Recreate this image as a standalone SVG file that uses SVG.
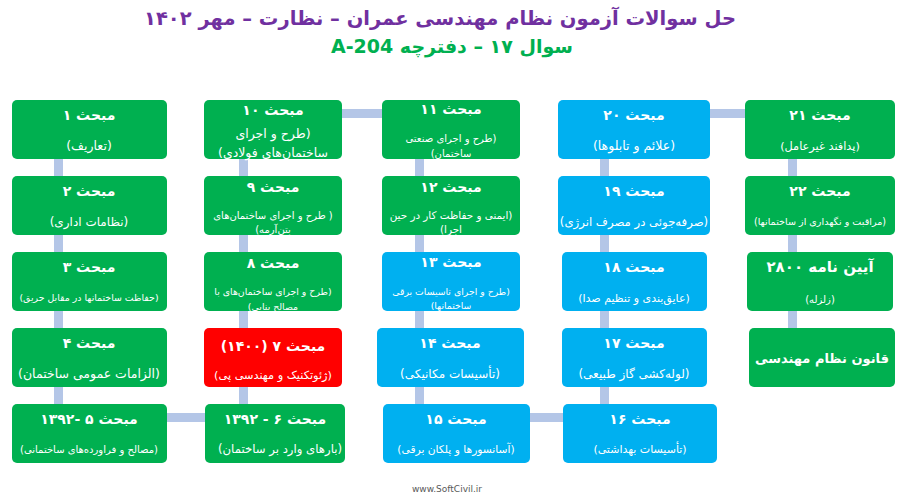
<svg xmlns="http://www.w3.org/2000/svg" width="901" height="503" viewBox="0 0 901 503">
<style>
.g{fill:#00B050}.b{fill:#00B0F0}.r{fill:#FF0000}
.c{fill:#B4C6E7}
text{font-family:"DejaVu Sans",sans-serif;text-anchor:middle;direction:rtl}
.t{fill:#fff;font-weight:bold}
.h{font-size:14px}.s{font-size:10px;font-weight:normal}
</style>
<rect width="901" height="503" fill="#fff"/>
<text x="440" y="25" style="font-size:19.5px;font-weight:bold;fill:#7030A0">حل سوالات آزمون نظام مهندسی عمران – نظارت – مهر ۱۴۰۲</text>
<text x="452" y="53" style="font-size:19px;font-weight:bold;fill:#00B050">سوال ۱۷ – دفترچه A-204</text>
<g id="connectors">
<rect class="c" x="54" y="159" width="9" height="17"/><rect class="c" x="54" y="235" width="9" height="17"/><rect class="c" x="54" y="311" width="9" height="17"/><rect class="c" x="54" y="387" width="9" height="17"/>
<rect class="c" x="239" y="159" width="9" height="17"/><rect class="c" x="239" y="235" width="9" height="17"/><rect class="c" x="239" y="311" width="9" height="17"/><rect class="c" x="239" y="387" width="9" height="17"/>
<rect class="c" x="415" y="159" width="9" height="17"/><rect class="c" x="415" y="235" width="9" height="17"/><rect class="c" x="415" y="311" width="9" height="17"/><rect class="c" x="415" y="387" width="9" height="17"/>
<rect class="c" x="600" y="159" width="9" height="17"/><rect class="c" x="600" y="235" width="9" height="17"/><rect class="c" x="600" y="311" width="9" height="17"/><rect class="c" x="600" y="387" width="9" height="17"/>
<rect class="c" x="788" y="159" width="9" height="17"/><rect class="c" x="788" y="235" width="9" height="17"/><rect class="c" x="788" y="311" width="9" height="17"/>
<rect class="c" x="342" y="109" width="40" height="9"/>
<rect class="c" x="710" y="109" width="35" height="9"/>
<rect class="c" x="167" y="413" width="38" height="9"/>
<rect class="c" x="530" y="413" width="33" height="9"/>
</g>
<g id="n1"><rect class="g" x="12" y="100" width="155" height="59" rx="5"/><text class="t h" x="89" y="120">مبحث ۱</text><text class="t s" x="89" y="150" style="font-size:12.5px">(تعاریف)</text></g>
<g id="n2"><rect class="g" x="12" y="176" width="155" height="59" rx="5"/><text class="t h" x="89" y="196">مبحث ۲</text><text class="t s" x="89" y="226" style="font-size:12px">(نظامات اداری)</text></g>
<g id="n3"><rect class="g" x="12" y="252" width="155" height="59" rx="5"/><text class="t h" x="89" y="272">مبحث ۳</text><text class="t s" x="89" y="301" style="font-size:9.4px">(حفاظت ساختمانها در مقابل حریق)</text></g>
<g id="n4"><rect class="g" x="12" y="328" width="155" height="59" rx="5"/><text class="t h" x="89" y="348">مبحث ۴</text><text class="t s" x="89" y="378" style="font-size:12.5px">(الزامات عمومی ساختمان)</text></g>
<g id="n5"><rect class="g" x="12" y="404" width="155" height="59" rx="5"/><text class="t h" x="89" y="424">مبحث ۵ -۱۳۹۲</text><text class="t s" x="89" y="453">(مصالح و فراورده‌های ساختمانی)</text></g>
<g id="n10"><rect class="g" x="204" y="100" width="138" height="59" rx="5"/><text class="t h" x="273" y="115">مبحث ۱۰</text><text class="t s" x="273" y="138" style="font-size:12.5px">(طرح و اجرای</text><text class="t s" x="273" y="157" style="font-size:12.5px">ساختمان‌های فولادی)</text></g>
<g id="n9"><rect class="g" x="204" y="176" width="138" height="59" rx="5"/><text class="t h" x="273" y="192">مبحث ۹</text><text class="t s" x="273" y="219">( طرح و اجرای ساختمان‌های</text><text class="t s" x="273" y="233">بتن‌آرمه)</text></g>
<g id="n8"><rect class="g" x="204" y="252" width="138" height="59" rx="5"/><text class="t h" x="273" y="268">مبحث ۸</text><text class="t s" x="273" y="295" style="font-size:9.4px">(طرح و اجرای ساختمان‌های با</text><text class="t s" x="273" y="310" style="font-size:9.4px">مصالح بنایی)</text></g>
<g id="n7"><rect class="r" x="204" y="328" width="138" height="59" rx="5"/><text class="t h" x="273" y="351">مبحث ۷ (۱۴۰۰)</text><text class="t s" x="273" y="379" style="font-size:11.3px">(ژئوتکنیک و مهندسی پی)</text></g>
<g id="n6"><rect class="g" x="205" y="404" width="140" height="59" rx="5"/><text class="t h" x="275" y="424">مبحث ۶ - ۱۳۹۲</text><text class="t s" x="280" y="453" style="font-size:11.7px">(بارهای وارد بر ساختمان)</text></g>
<g id="n11"><rect class="g" x="382" y="100" width="138" height="59" rx="5"/><text class="t h" x="451" y="114">مبحث ۱۱</text><text class="t s" x="451" y="142">(طرح و اجرای صنعتی</text><text class="t s" x="451" y="157">ساختمان)</text></g>
<g id="n12"><rect class="g" x="382" y="176" width="138" height="59" rx="5"/><text class="t h" x="451" y="192">مبحث ۱۲</text><text class="t s" x="451" y="219" style="font-size:10.4px">(ایمنی و حفاظت کار در حین</text><text class="t s" x="451" y="233" style="font-size:10.4px">اجرا)</text></g>
<g id="n13"><rect class="b" x="382" y="252" width="138" height="59" rx="5"/><text class="t h" x="451" y="267">مبحث ۱۳</text><text class="t s" x="451" y="295" style="font-size:9.3px">(طرح و اجرای تاسیسات برقی</text><text class="t s" x="451" y="309" style="font-size:9.3px">ساختمانها)</text></g>
<g id="n14"><rect class="b" x="377" y="328" width="147" height="59" rx="5"/><text class="t h" x="450" y="348">مبحث ۱۴</text><text class="t s" x="450" y="378" style="font-size:12px">(تأسیسات مکانیکی)</text></g>
<g id="n15"><rect class="b" x="383" y="404" width="147" height="59" rx="5"/><text class="t h" x="456" y="424">مبحث ۱۵</text><text class="t s" x="456" y="453" style="font-size:10.7px">(آسانسورها و پلکان برقی)</text></g>
<g id="n20"><rect class="b" x="558" y="100" width="152" height="59" rx="5"/><text class="t h" x="634" y="120">مبحث ۲۰</text><text class="t s" x="634" y="150" style="font-size:12.5px">(علائم و تابلوها)</text></g>
<g id="n19"><rect class="b" x="558" y="176" width="152" height="59" rx="5"/><text class="t h" x="634" y="196">مبحث ۱۹</text><text class="t s" x="634" y="226" style="font-size:11.7px">(صرفه‌جوئی در مصرف انرژی)</text></g>
<g id="n18"><rect class="b" x="562" y="252" width="145" height="59" rx="5"/><text class="t h" x="634" y="272">مبحث ۱۸</text><text class="t s" x="634" y="302" style="font-size:11px">(عایق‌بندی و تنظیم صدا)</text></g>
<g id="n17"><rect class="b" x="562" y="328" width="145" height="59" rx="5"/><text class="t h" x="634" y="348">مبحث ۱۷</text><text class="t s" x="634" y="378" style="font-size:12px">(لوله‌کشی گاز طبیعی)</text></g>
<g id="n16"><rect class="b" x="563" y="404" width="154" height="59" rx="5"/><text class="t h" x="640" y="424">مبحث ۱۶</text><text class="t s" x="640" y="453" style="font-size:11px">(تأسیسات بهداشتی)</text></g>
<g id="n21"><rect class="g" x="745" y="100" width="150" height="59" rx="5"/><text class="t h" x="820" y="120">مبحث ۲۱</text><text class="t s" x="820" y="150" style="font-size:11.3px">(پدافند غیرعامل)</text></g>
<g id="n22"><rect class="g" x="745" y="176" width="150" height="59" rx="5"/><text class="t h" x="820" y="196">مبحث ۲۲</text><text class="t s" x="820" y="225" style="font-size:9.6px">(مراقبت و نگهداری از ساختمانها)</text></g>
<g id="n2800"><rect class="g" x="747" y="252" width="146" height="59" rx="5"/><text class="t" x="820" y="272" style="font-size:15px">آیین نامه ۲۸۰۰</text><text class="t s" x="820" y="303">(زلزله)</text></g>
<g id="nlaw"><rect class="g" x="749" y="328" width="146" height="59" rx="5"/><text class="t" x="822" y="363" style="font-size:13px">قانون نظام مهندسی</text></g>
<text x="447" y="492" style="font-size:9px;fill:#595959;direction:ltr">www.SoftCivil.ir</text>
</svg>
